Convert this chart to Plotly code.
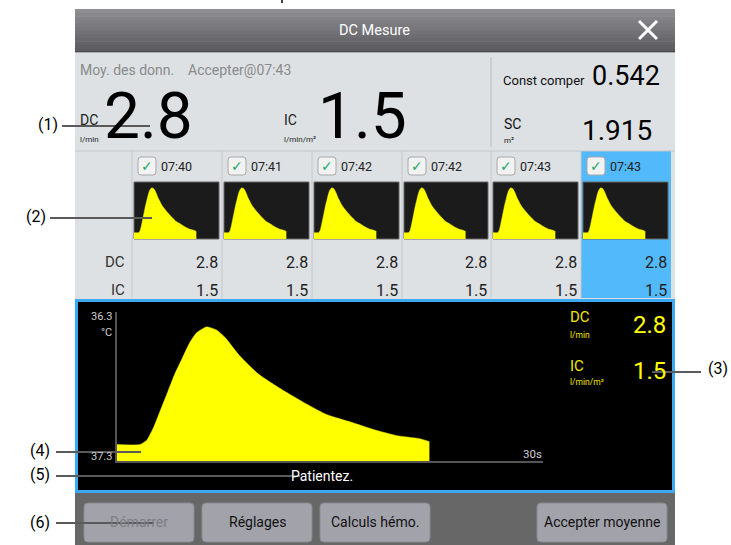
import plotly.graph_objects as go

W, H = 731, 545
FONT = "Roboto, Liberation Sans, sans-serif"

# ---------------- data ----------------
curve_t = [0, 1.6, 2.1, 2.6, 3.1, 3.6, 4.1, 4.6, 5.1, 5.6, 6.3, 7.0, 7.6, 8.6, 10.0, 11.6,
           13.2, 14.8, 16.5, 18.1, 19.7, 21.3, 22.0]
curve_temp = [37.19, 37.19, 37.16, 37.07, 36.95, 36.83, 36.71, 36.61, 36.51, 36.44, 36.40,
              36.42, 36.47, 36.59, 36.72, 36.82, 36.91, 36.99, 37.04, 37.09, 37.13, 37.15, 37.17]
x_range = [0, 30]
temp_range = [37.3, 36.3]
y_tick_labels = ["36.3", "°C", "37.3"]
x_tick_label = "30s"

meas_times = ["07:40", "07:41", "07:42", "07:42", "07:43", "07:43"]
meas_dc = [2.8, 2.8, 2.8, 2.8, 2.8, 2.8]
meas_ic = [1.5, 1.5, 1.5, 1.5, 1.5, 1.5]
selected = 5

avg_dc = "2.8"
avg_ic = "1.5"
const_comp = "0.542"
bsa = "1.915"
accept_time = "07:43"
buttons = ["Démarrer", "Réglages", "Calculs hémo.", "Accepter moyenne"]
callouts = ["(1)", "(2)", "(3)", "(4)", "(5)", "(6)"]

# ---------------- helpers ----------------
def X(x):
    return x / W

def Y(y):
    return 1 - y / H

shapes = []
annotations = []

def rect(x0, y0, x1, y1, fill, line=None, lw=0, layer="below"):
    shapes.append(dict(type="rect", xref="paper", yref="paper",
                       x0=X(x0), x1=X(x1), y0=Y(y0), y1=Y(y1),
                       fillcolor=fill, line=dict(color=line or fill, width=lw), layer=layer))

def line(x0, y0, x1, y1, color, w=1, layer="above"):
    shapes.append(dict(type="line", xref="paper", yref="paper",
                       x0=X(x0), x1=X(x1), y0=Y(y0), y1=Y(y1),
                       line=dict(color=color, width=w), layer=layer))

def rrect(x0, y0, x1, y1, r, fill, lc, lw=1, layer="below"):
    def P(x, y):
        return f"{X(x)},{Y(y)}"
    path = (f"M {P(x0 + r, y0)} L {P(x1 - r, y0)} Q {P(x1, y0)} {P(x1, y0 + r)} "
            f"L {P(x1, y1 - r)} Q {P(x1, y1)} {P(x1 - r, y1)} L {P(x0 + r, y1)} "
            f"Q {P(x0, y1)} {P(x0, y1 - r)} L {P(x0, y0 + r)} Q {P(x0, y0)} {P(x0 + r, y0)} Z")
    shapes.append(dict(type="path", xref="paper", yref="paper", path=path,
                       fillcolor=fill, line=dict(color=lc, width=lw), layer=layer))

def text(x, y, s, size, color="#000", xa="left", ya="middle", family=FONT):
    annotations.append(dict(xref="paper", yref="paper", x=X(x), y=Y(y), text=s,
                            showarrow=False, xanchor=xa, yanchor=ya,
                            font=dict(family=family, size=size, color=color)))

# tiny mark above the dialog (cut-off text of the page)
line(282, 0, 282, 3, "#000", 1.5)

# ---------------- title bar ----------------
top_c = (0x8e, 0x8e, 0x92)
bot_c = (0x5c, 0x5c, 0x60)
n = 12
for i in range(n):
    f = i / (n - 1)
    c = tuple(int(top_c[k] + (bot_c[k] - top_c[k]) * f) for k in range(3))
    y0 = 9 + i * (43 / n)
    rect(75, y0, 675, y0 + 43 / n + 0.6, "rgb(%d,%d,%d)" % c)
rect(75, 51, 675, 52.5, "#4a4a4e")
text(375, 30, "DC Mesure", 14.5, "#ffffff", xa="center")
line(639, 21, 657, 39, "#ffffff", 3)
line(657, 21, 639, 39, "#ffffff", 3)

# ---------------- summary area ----------------
rect(75, 52.5, 675, 299, "#dde1e4")
line(491, 57, 491, 147, "#b8bcc0", 1)
text(78, 70, "Moy. des donn.", 14, "#8a8a8a")
text(186, 70, "Accepter@" + accept_time, 14, "#8a8a8a")
text(78, 120, "DC", 14, "#222")
text(78, 139, "l/min", 8, "#222")
text(148, 116, avg_dc, 64, "#000", xa="center")
text(282, 120, "IC", 14, "#222")
text(282, 139, "l/min/m²", 8, "#222")
text(362, 116, avg_ic, 64, "#000", xa="center")
text(501, 80, "Const comper", 13, "#111")
text(662, 76, const_comp, 27, "#000", xa="right")
text(502, 124, "SC", 14, "#111")
text(502, 140, "m²", 8, "#111")
text(654, 130, bsa, 28, "#000", xa="right")

# ---------------- table ----------------
col_edges = [132, 222, 312, 402, 491, 581, 671]
line(75, 151, 675, 151, "#c4c8cc", 1)
rect(col_edges[selected], 151, col_edges[selected + 1], 298, "#52b9fb")
for e in col_edges[:-1]:
    line(e, 151, e, 298, "#c4c8cc", 1)
text(127, 262, "DC", 15, "#333", xa="right")
text(127, 290, "IC", 15, "#333", xa="right")
for i in range(6):
    l, r = col_edges[i], col_edges[i + 1]
    rrect(l + 6, 157, l + 24, 175, 3, "#f2f2f2", "#a8a8a8", 1, layer="above")
    text(l + 15, 166, "✓", 14, "#22aa66", xa="center", family="DejaVu Sans")
    text(l + 27, 166, meas_times[i], 12.5, "#222")
    rect(l + 2, 182, r - 3, 239, "#1b1b1b", "#666", 1)
    text(r - 2, 262, f"{meas_dc[i]:.1f}", 16, "#222", xa="right")
    text(r - 2, 290, f"{meas_ic[i]:.1f}", 16, "#222", xa="right")

# ---------------- main curve panel ----------------
rect(76.5, 300.5, 673.5, 491.5, "#000000", "#3ea9f2", 3)
text(114, 316, y_tick_labels[0], 11, "#cfcfcf", xa="right")
text(114, 332, y_tick_labels[1], 11, "#cfcfcf", xa="right")
text(114, 456, y_tick_labels[2], 11, "#cfcfcf", xa="right")
text(544, 454, x_tick_label, 11.5, "#cfcfcf", xa="right")
text(568, 317, "DC", 15, "#f2e600")
text(568, 335, "l/min", 8.5, "#f2e600")
text(668, 325, avg_dc, 24, "#ffff00", xa="right")
text(568, 366, "IC", 15, "#f2e600")
text(568, 382, "l/min/m²", 8.5, "#f2e600")
text(668, 371, avg_ic, 24, "#ffff00", xa="right")
text(322, 476, "Patientez.", 14, "#ffffff", xa="center")

# ---------------- bottom toolbar ----------------
rect(75, 493, 675, 545, "#676767")
btn_x = [(84, 194), (202, 312), (320, 430), (537, 667)]
for (bx0, bx1), label in zip(btn_x, buttons):
    rrect(bx0, 503, bx1, 542, 4, "#a2a2aa", "#8a8a92", 1)
    col = "#7d7d86" if label == "Démarrer" else "#111"
    text((bx0 + bx1) / 2, 522, label, 14, col, xa="center")

# ---------------- callouts ----------------
call_pos = [(48, 124, 62, 126, 150), (36, 216, 50, 218, 152), (718, 368, 652, 372, 701),
            (40, 450, 56, 452, 141), (40, 474, 56, 476, 300), (40, 522, 56, 523, 154)]
for lab, (tx, ty, lx0, ly, lx1) in zip(callouts, call_pos):
    text(tx, ty, lab, 16, "#000", xa="center")
    line(lx0, ly, lx1, ly, "#5a5a5a", 2)

# ---------------- traces ----------------
fig = go.Figure()
base_x = [curve_t[0], curve_t[-1]]
base_y = [temp_range[0], temp_range[0]]

def add_curve(xa, ya):
    fig.add_trace(go.Scatter(x=base_x, y=base_y, mode="lines", line=dict(width=0),
                             hoverinfo="skip", xaxis=xa, yaxis=ya))
    fig.add_trace(go.Scatter(x=curve_t, y=curve_temp, mode="lines", fill="tonexty",
                             line=dict(color="#ffff00", width=0.5, shape="spline", smoothing=0.5),
                             fillcolor="#ffff00", hoverinfo="skip", xaxis=xa, yaxis=ya))

add_curve("x", "y")
layout_axes = dict(
    xaxis=dict(domain=[X(117), X(543)], range=x_range, showgrid=False, zeroline=False,
               showline=True, linecolor="#555", linewidth=2, showticklabels=False, ticks="",
               anchor="y"),
    yaxis=dict(domain=[Y(461), Y(312)], range=temp_range, showgrid=False, zeroline=False,
               showline=True, linecolor="#555", linewidth=2, showticklabels=False, ticks="",
               anchor="x"),
)
for i in range(6):
    k = i + 2
    l, r = col_edges[i], col_edges[i + 1]
    add_curve(f"x{k}", f"y{k}")
    layout_axes[f"xaxis{k}"] = dict(domain=[X(l + 2), X(r - 3)], range=x_range, visible=False,
                                    anchor=f"y{k}")
    layout_axes[f"yaxis{k}"] = dict(domain=[Y(239), Y(182)], range=temp_range, visible=False,
                                    anchor=f"x{k}")

fig.update_layout(width=W, height=H, margin=dict(l=0, r=0, t=0, b=0),
                  paper_bgcolor="#ffffff", plot_bgcolor="rgba(0,0,0,0)",
                  showlegend=False, shapes=shapes, annotations=annotations,
                  font=dict(family=FONT), **layout_axes)
fig.write_html("out.html", config={"displayModeBar": False},
               post_script="document.body.style.margin='0px';")
